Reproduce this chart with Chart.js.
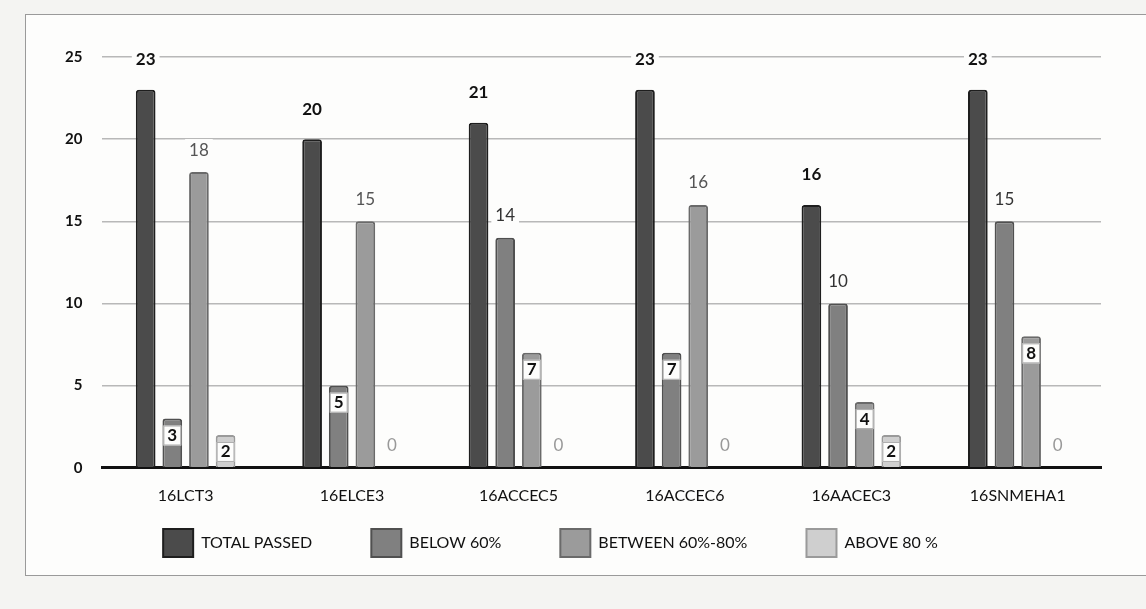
<!DOCTYPE html>
<html>
<head>
<meta charset="utf-8">
<script src="https://cdn.jsdelivr.net/npm/chart.js@4.4.0/dist/chart.umd.min.js"></script>
<style>
  body { margin: 0; background: #f4f4f2; }
  #box { position: absolute; left: 25px; top: 14px; width: 1130px; height: 560px; background: #fdfdfc; border: 1px solid #9a9a9a; }
  #wrap { position: absolute; left: 0; top: 0; width: 1146px; height: 609px; }
</style>
</head>
<body>
<div id="box"></div>
<div id="wrap"><canvas id="myChart"></canvas></div>
<script>
const ctx = document.getElementById("myChart").getContext("2d");

const labels = ["16LCT3", "16ELCE3", "16ACCEC5", "16ACCEC6", "16AACEC3", "16SNMEHA1"];
const totalPassed = [23, 20, 21, 23, 16, 23];
const below60 = [3, 5, 14, 7, 10, 15];
const between60to80 = [18, 15, 7, 16, 4, 8];
const above80 = [2, 0, 0, 0, 2, 0];
const yTicks = [0, 5, 10, 15, 20, 25];

const labelColors = ["#111", "#333", "#555", "#999"];

// draws the value labels like the excel ones: small values inside the bar on a white box
const valueLabels = {
  id: "valueLabels",
  afterDatasetsDraw(chart) {
    const c = chart.ctx;
    c.save();
    c.textAlign = "center";
    c.textBaseline = "middle";
    chart.data.datasets.forEach((ds, i) => {
      const meta = chart.getDatasetMeta(i);
      meta.data.forEach((bar, j) => {
        const v = ds.data[j];
        const txt = String(v);
        let y, inside = v > 0 && v < 10;
        if (inside) {
          y = bar.y + 17;
          c.font = "bold 17px Lato";
        } else {
          y = bar.y - (i === 0 ? 30 : 22);
          if (v === 0) y = bar.y - 22;
          c.font = (i === 0 ? "bold " : "") + "17px Lato";
        }
        const w = c.measureText(txt).width + 8;
        c.fillStyle = "#fdfdfc";
        if (inside) {
          c.fillRect(bar.x - w / 2, y - 10, w, 20);
          c.strokeStyle = "#aaa";
          c.lineWidth = 1;
          c.strokeRect(bar.x - w / 2 + 0.5, y - 9.5, w - 1, 19);
        } else {
          c.fillRect(bar.x - w / 2, y - 11, w, 22);
        }
        c.fillStyle = inside ? "#111" : labelColors[i];
        c.fillText(txt, bar.x, y);
      });
    });
    c.restore();
  }
};

const data = {
  labels,
  datasets: [
    { label: "TOTAL PASSED", data: totalPassed, backgroundColor: "#4b4b4b", borderColor: "#1e1e1e" },
    { label: "BELOW 60%", data: below60, backgroundColor: "#808080", borderColor: "#505050" },
    { label: "BETWEEN 60%-80%", data: between60to80, backgroundColor: "#9b9b9b", borderColor: "#6a6a6a" },
    { label: "ABOVE 80 %", data: above80, backgroundColor: "#cfcfcf", borderColor: "#9a9a9a" },
  ],
};

data.datasets.forEach(d => {
  d.borderWidth = 2;
  d.borderRadius = 3;
  d.borderSkipped = "bottom";
  d.categoryPercentage = 0.64;
  d.barPercentage = 0.74;
});

const config = {
  type: "bar",
  data: data,
  plugins: [valueLabels],
  options: {
    responsive: true,
    maintainAspectRatio: false,
    animation: false,
    layout: { padding: { left: 45, right: 45, top: 57, bottom: 42 } },
    plugins: {
      legend: {
        position: "bottom",
        labels: {
          color: "#111",
          font: { family: "Lato", size: 16 },
          boxWidth: 30,
          boxHeight: 28,
          padding: 14,
          generateLabels: chart =>
            Chart.defaults.plugins.legend.labels.generateLabels(chart).map(l => ({ ...l, text: l.text + "           " })),
        },
      },
      tooltip: { enabled: false },
    },
    scales: {
      x: {
        grid: { display: false },
        border: { color: "#111", width: 3 },
        ticks: { color: "#111", font: { family: "Lato", size: 16 }, padding: 10 },
      },
      y: {
        min: 0,
        max: 25,
        afterBuildTicks: axis => { axis.ticks = yTicks.map(v => ({ value: v })); },
        grid: { color: "#b8b8b8", lineWidth: 1.5, drawTicks: false },
        border: { display: false },
        ticks: { color: "#111", font: { family: "Lato", size: 15, weight: "bold" }, padding: 20 },
      },
    },
  },
};

const myChart = new Chart(ctx, config);
</script>
</body>
</html>
